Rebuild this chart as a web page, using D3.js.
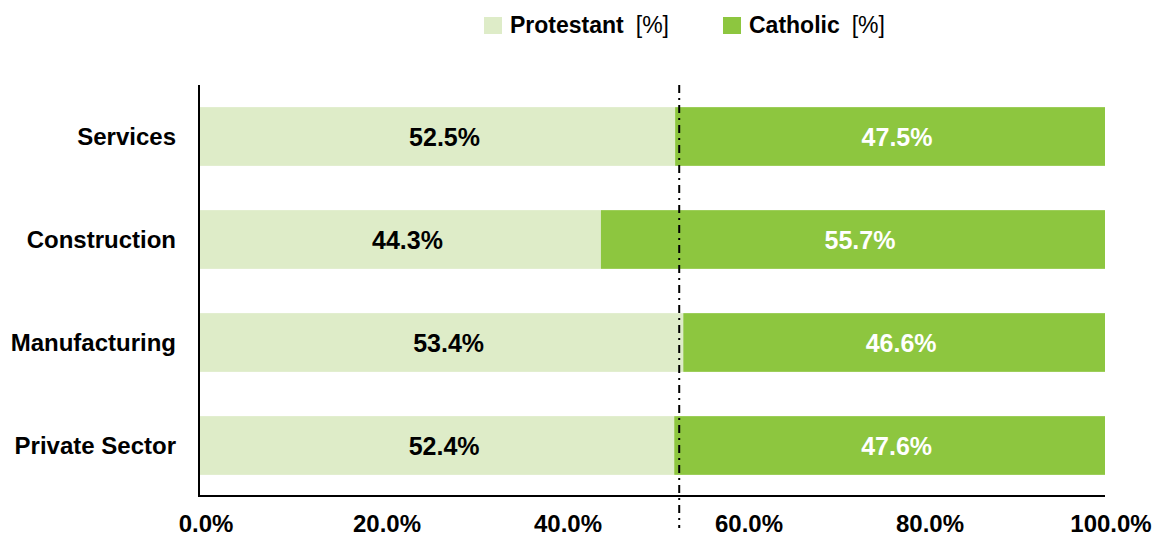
<!DOCTYPE html>
<html lang="en">
<head>
<meta charset="UTF-8">
<title>Protestant vs Catholic share by sector</title>
<style>
    body { margin: 0; background: #fff; }
    text { font-family: "Liberation Sans", Arial, sans-serif; font-weight: bold; fill: #000; }
</style>
</head>
<body>
<div id="chart"></div>
<script src="https://d3js.org/d3.v7.min.js"></script>
<script>
    "use strict";

    // data
    var sectors = ["Services", "Construction", "Manufacturing", "Private Sector"];
    var protestant = [52.5, 44.3, 53.4, 52.4];
    var catholic = [47.5, 55.7, 46.6, 47.6];
    var seriesNames = ["Protestant", "Catholic"];
    var xTicks = [0, 20, 40, 60, 80, 100];

    var width = 1164, height = 538;
    var colors = { Protestant: "#deecc8", Catholic: "#8dc63f" };

    var svg = d3.select("#chart").append("svg")
        .attr("width", width)
        .attr("height", height);

    var x = d3.scaleLinear().domain([0, 100]).range([200, 1105]);
    var y = d3.scaleBand().domain(sectors).range([85, 497]).paddingInner(0.43).paddingOuter(0.215);

    var rows = sectors.map(function (s, i) {
        return { sector: s, Protestant: protestant[i], Catholic: catholic[i] };
    });
    var stack = d3.stack().keys(seriesNames)(rows);

    var layer = svg.selectAll(".layer")
        .data(stack)
        .enter().append("g")
        .attr("class", "layer")
        .attr("fill", function (d) { return colors[d.key]; });

    layer.selectAll("rect")
        .data(function (d) { return d; })
        .enter().append("rect")
        .attr("x", function (d) { return x(d[0]); })
        .attr("y", function (d) { return y(d.data.sector); })
        .attr("width", function (d) { return x(d[1]) - x(d[0]); })
        .attr("height", y.bandwidth());

    // value labels
    stack.forEach(function (s) {
        svg.selectAll(".lbl-" + s.key)
            .data(s)
            .enter().append("text")
            .attr("x", function (d) { return (x(d[0]) + x(d[1])) / 2 + 7; })
            .attr("y", function (d) { return y(d.data.sector) + y.bandwidth() / 2; })
            .attr("dy", "0.36em")
            .attr("text-anchor", "middle")
            .style("font-size", "25px")
            .style("fill", s.key === "Catholic" ? "#fff" : "#000")
            .text(function (d) { return (d[1] - d[0]).toFixed(1) + "%"; });
    });

    // axes lines
    svg.append("line")
        .attr("x1", 199).attr("x2", 199)
        .attr("y1", 85).attr("y2", 497)
        .attr("stroke", "#000").attr("stroke-width", 2);
    svg.append("line")
        .attr("x1", 198).attr("x2", x(100))
        .attr("y1", 496).attr("y2", 496)
        .attr("stroke", "#000").attr("stroke-width", 2);

    // reference line at private sector share
    svg.append("line")
        .attr("x1", x(protestant[3]) + 5).attr("x2", x(protestant[3]) + 5)
        .attr("y1", 85).attr("y2", 528)
        .attr("stroke", "#000").attr("stroke-width", 2)
        .attr("stroke-dasharray", "8,5,2,5");

    // category labels
    svg.selectAll(".cat")
        .data(sectors)
        .enter().append("text")
        .attr("x", 176)
        .attr("y", function (d) { return y(d) + y.bandwidth() / 2; })
        .attr("dy", "0.36em")
        .attr("text-anchor", "end")
        .style("font-size", "24px")
        .text(function (d) { return d; });

    // x tick labels
    svg.selectAll(".tick")
        .data(xTicks)
        .enter().append("text")
        .attr("x", function (d) { return x(d) + 6; })
        .attr("y", 532)
        .attr("text-anchor", "middle")
        .style("font-size", "24px")
        .text(function (d) { return d.toFixed(1) + "%"; });

    // legend
    var legendX = [484, 723];
    seriesNames.forEach(function (name, i) {
        var g = svg.append("g").attr("transform", "translate(" + legendX[i] + ",17)");
        g.append("rect").attr("width", 18).attr("height", 17).attr("fill", colors[name]);
        var t = g.append("text").attr("x", 26).attr("y", 16).style("font-size", "23px");
        t.append("tspan").text(name);
        t.append("tspan").attr("dx", 12).style("font-weight", "normal").text("[%]");
    });
</script>
</body>
</html>
